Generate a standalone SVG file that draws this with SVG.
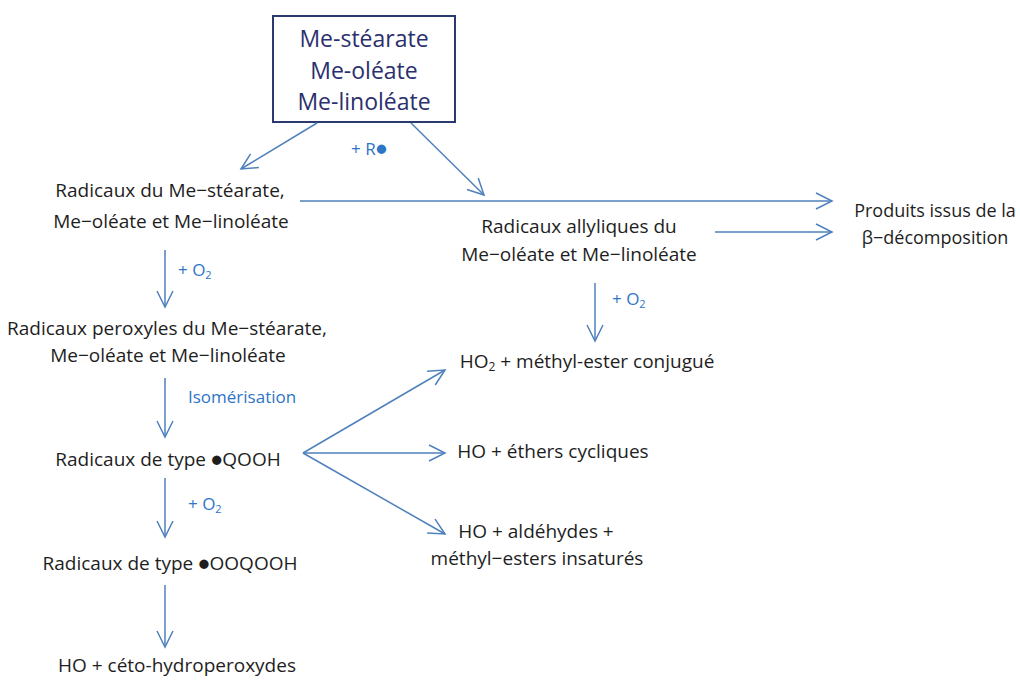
<svg xmlns="http://www.w3.org/2000/svg" width="1021" height="680" viewBox="0 0 1021 680">
<style>
.t{font-family:"Open Sans",Lato,sans-serif;font-size:19px;fill:#1e1e1e;text-anchor:middle}
.s{font-size:18px}
.l{font-family:"Open Sans",Lato,sans-serif;font-size:17px;fill:#2e75c6}
.b{font-family:"Open Sans",Lato,sans-serif;font-size:23px;fill:#2b2f6e;text-anchor:middle}
.c line{stroke:#4f81bd;stroke-width:1.5;fill:none;marker-end:url(#a)}
</style>
<defs>
<marker id="a" viewBox="0 0 20 20" refX="18" refY="10" markerWidth="20" markerHeight="20" markerUnits="userSpaceOnUse" orient="auto">
<path d="M2,2 L18,10 L2,18" fill="none" stroke="#4f81bd" stroke-width="1.5"/>
</marker>
</defs>
<rect width="1021" height="680" fill="#fff"/>
<g id="top">
<rect x="273" y="16" width="182" height="106" fill="#fff" stroke="#2b3a6e" stroke-width="2"/>
<text class="b" x="364" y="47">Me-stéarate</text>
<text class="b" x="364" y="79">Me-oléate</text>
<text class="b" x="364" y="110">Me-linoléate</text>
</g>
<g class="c" id="connectors">
<line x1="317" y1="123" x2="241" y2="169"/>
<line x1="411" y1="123" x2="484" y2="195"/>
<line x1="300" y1="201" x2="832" y2="201"/>
<line x1="715" y1="232" x2="832" y2="232"/>
<line x1="165" y1="250" x2="165" y2="307"/>
<line x1="595" y1="283" x2="595" y2="341"/>
<line x1="165" y1="378" x2="165" y2="437"/>
<line x1="165" y1="478" x2="165" y2="537"/>
<line x1="165" y1="585" x2="165" y2="647"/>
<line x1="303" y1="453" x2="445" y2="370"/>
<line x1="303" y1="453" x2="445" y2="453"/>
<line x1="303" y1="453" x2="445" y2="534"/>
</g>
<g id="labels">
<text class="l" x="351" y="155">+ R<tspan font-size="19">●</tspan></text>
<text class="l" x="178" y="276">+ O<tspan font-size="11" dy="3">2</tspan></text>
<text class="l" x="612" y="305">+ O<tspan font-size="11" dy="3">2</tspan></text>
<text class="l" x="188" y="403" font-size="18.5">Isomérisation</text>
<text class="l" x="188" y="510">+ O<tspan font-size="11" dy="3">2</tspan></text>
</g>
<g id="n1"><text class="t" x="170" y="197">Radicaux du Me−stéarate,</text><text class="t" x="171" y="228">Me−oléate et Me−linoléate</text></g>
<g id="n2"><text class="t" x="579" y="233">Radicaux allyliques du</text><text class="t" x="579" y="261">Me−oléate et Me−linoléate</text></g>
<g id="n3"><text class="t s" x="935" y="217">Produits issus de la</text><text class="t s" x="935" y="244">β−décomposition</text></g>
<g id="n4"><text class="t" x="167" y="335">Radicaux peroxyles du Me−stéarate,</text><text class="t" x="168" y="362">Me−oléate et Me−linoléate</text></g>
<g id="n5"><text class="t" x="587" y="368">HO<tspan font-size="12" dy="3">2</tspan><tspan dy="-3"> + méthyl-ester conjugué</tspan></text></g>
<g id="n6"><text class="t" x="168" y="466">Radicaux de type ●QOOH</text></g>
<g id="n7"><text class="t" x="553" y="458">HO + éthers cycliques</text></g>
<g id="n8"><text class="t" x="536" y="538">HO + aldéhydes +</text><text class="t" x="537" y="565">méthyl−esters insaturés</text></g>
<g id="n9"><text class="t" x="170" y="570">Radicaux de type ●OOQOOH</text></g>
<g id="n10"><text class="t" x="177" y="672">HO + céto-hydroperoxydes</text></g>
</svg>
